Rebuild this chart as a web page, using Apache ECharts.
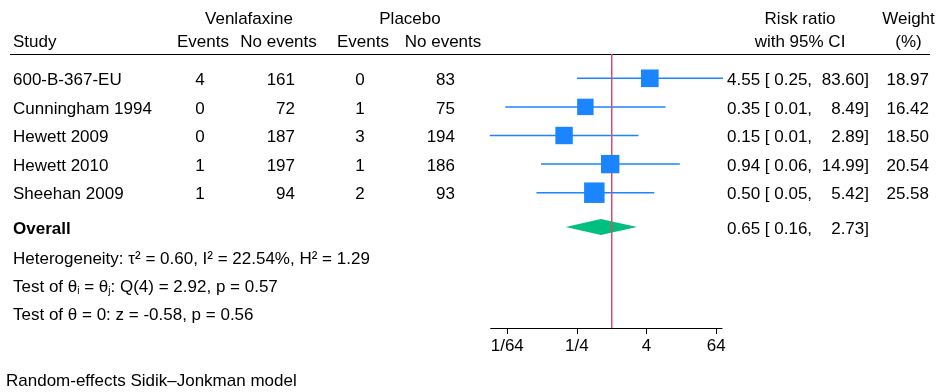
<!DOCTYPE html>
<html><head><meta charset="utf-8">
<script src="https://cdn.jsdelivr.net/npm/echarts@6/dist/echarts.min.js"></script>
<style>html,body{margin:0;padding:0;background:#fff}#c{width:942px;height:392px}</style>
</head><body><div id="c"></div>
<script>
// ---- data ----
const studies = ['600-B-367-EU', 'Cunningham 1994', 'Hewett 2009', 'Hewett 2010', 'Sheehan 2009'];
const venlaEvents = [4, 0, 0, 1, 1];
const venlaNoEvents = [161, 72, 187, 197, 94];
const placeboEvents = [0, 1, 3, 1, 2];
const placeboNoEvents = [83, 75, 194, 186, 93];
const riskRatio = [4.55, 0.35, 0.15, 0.94, 0.50];
const ciLow = [0.25, 0.0145, 0.0078, 0.06, 0.05];
const ciHigh = [83.60, 8.49, 2.89, 14.99, 5.42];
const weights = [18.97, 16.42, 18.50, 20.54, 25.58];
const overallRR = [0.65];
const overallLow = [0.16];
const overallHigh = [2.73];
const nullValue = [1];
const tickValues = [1/64, 1/4, 4, 64];
const tickLabels = ['1/64', '1/4', '4', '64'];
const hetText = 'Heterogeneity: \u03c4\u00b2 = 0.60, I\u00b2 = 22.54%, H\u00b2 = 1.29';
const testHomText = ['Test of \u03b8', 'i', ' = \u03b8', 'j', ': Q(4) = 2.92, p = 0.57'];
const testZeroText = 'Test of \u03b8 = 0: z = -0.58, p = 0.56';
const footText = 'Random-effects Sidik\u2013Jonkman model';

// ---- layout ----
const FONT = 'Liberation Sans, Arial, Helvetica, sans-serif';
const FS = 17;
const TOP = 54, AXISY = 328;
const rowY = i => 78.3 + i * 28.6;
const overallY = 227;
const textDy = 2;
const lg = v => Math.log2(v);
const BLUE = '#1a85ff', GREEN = '#00bf7f', RED = '#d24f70';

const chart = echarts.init(document.getElementById('c'), null, {renderer: 'canvas'});

const txt = (x, y, s, align, extra) => ({
  type: 'text', silent: true,
  style: Object.assign({x: x, y: y, text: s, align: align || 'left', verticalAlign: 'middle',
    font: FS + 'px ' + FONT, fill: '#000'}, extra || {})
});

const graphics = [];
// headers
graphics.push(txt(249, 19, 'Venlafaxine', 'center'));
graphics.push(txt(410, 19, 'Placebo', 'center'));
graphics.push(txt(13, 42, 'Study'));
graphics.push(txt(203, 42, 'Events', 'center'));
graphics.push(txt(278.5, 42, 'No events', 'center'));
graphics.push(txt(363, 42, 'Events', 'center'));
graphics.push(txt(443, 42, 'No events', 'center'));
graphics.push(txt(800, 19, 'Risk ratio', 'center'));
graphics.push(txt(800, 42, 'with 95% CI', 'center'));
graphics.push(txt(908.5, 19, 'Weight', 'center'));
graphics.push(txt(908.5, 42, '(%)', 'center'));
graphics.push({type: 'line', silent: true, shape: {x1: 10, y1: 54.5, x2: 930, y2: 54.5},
  style: {stroke: '#000', lineWidth: 1}});

studies.forEach((s, i) => {
  const y = rowY(i) + textDy;
  graphics.push(txt(13, y, s));
  graphics.push(txt(200, y, String(venlaEvents[i]), 'center'));
  graphics.push(txt(295, y, String(venlaNoEvents[i]), 'right'));
  graphics.push(txt(360, y, String(placeboEvents[i]), 'center'));
  graphics.push(txt(455, y, String(placeboNoEvents[i]), 'right'));
  graphics.push(txt(727, y, riskRatio[i].toFixed(2) + ' [ ' + ciLow[i].toFixed(2) + ','));
  graphics.push(txt(869, y, ciHigh[i].toFixed(2) + ']', 'right'));
  graphics.push(txt(929, y, weights[i].toFixed(2), 'right'));
});
graphics.push(txt(13, overallY + textDy, 'Overall', 'left', {font: 'bold ' + FS + 'px ' + FONT}));
graphics.push(txt(727, overallY + textDy, overallRR[0].toFixed(2) + ' [ ' + overallLow[0].toFixed(2) + ','));
graphics.push(txt(869, overallY + textDy, overallHigh[0].toFixed(2) + ']', 'right'));
graphics.push(txt(13, 259, hetText));
graphics.push({
  type: 'text', silent: true,
  style: {x: 13, y: 287, verticalAlign: 'middle', align: 'left',
    text: '{a|' + testHomText[0] + '}{s|' + testHomText[1] + '}{a|' + testHomText[2] + '}{s|' + testHomText[3] + '}{a|' + testHomText[4] + '}',
    rich: {
      a: {fontSize: FS, fontFamily: FONT, fill: '#000', lineHeight: 19},
      s: {fontSize: 10, fontFamily: FONT, fill: '#000', lineHeight: 10, padding: [9, 0, 0, 0]}
    }}
});
graphics.push(txt(13, 315, testZeroText));
graphics.push(txt(6, 381, footText));

const option = {
  animation: false,
  backgroundColor: '#fff',
  grid: {left: 490.7, right: 942 - 722, top: TOP, bottom: 392 - AXISY, containLabel: false},
  xAxis: {
    type: 'value', min: -6.95, max: 6.33,
    axisLine: {show: true, lineStyle: {color: '#000', width: 1}},
    axisTick: {show: true, length: 6, lineStyle: {color: '#000', width: 1}, customValues: tickValues.map(lg)},
    axisLabel: {show: true, margin: 10, fontSize: FS, fontFamily: FONT, color: '#000',
      customValues: tickValues.map(lg),
      formatter: v => { const k = tickValues.findIndex(t => Math.abs(lg(t) - v) < 1e-6); return k >= 0 ? tickLabels[k] : ''; }},
    splitLine: {show: false}
  },
  yAxis: {type: 'value', min: TOP, max: AXISY, inverse: true, show: false, splitLine: {show: false}},
  graphic: graphics,
  series: [
    {
      type: 'custom', z: 1, silent: true,
      data: studies.map((s, i) => [lg(ciLow[i]), lg(ciHigh[i]), rowY(i)]),
      renderItem: (params, api) => {
        const a = api.coord([api.value(0), api.value(2)]);
        const b = api.coord([api.value(1), api.value(2)]);
        return {type: 'line', shape: {x1: a[0], y1: a[1], x2: b[0], y2: b[1]},
          style: {stroke: BLUE, lineWidth: 1.5}};
      }
    },
    {
      type: 'custom', z: 2, silent: true,
      data: overallRR.map((v, i) => [lg(overallLow[i]), lg(v), lg(overallHigh[i]), overallY]),
      renderItem: (params, api) => {
        const y = api.value(3);
        const l = api.coord([api.value(0), y]);
        const c = api.coord([api.value(1), y]);
        const r = api.coord([api.value(2), y]);
        const h = 8;
        return {type: 'polygon', shape: {points: [[l[0], c[1]], [c[0], c[1] - h], [r[0], c[1]], [c[0], c[1] + h]]},
          style: {fill: GREEN}};
      }
    },
    {
      type: 'custom', z: 3, silent: true,
      data: nullValue.map(v => [lg(v)]),
      renderItem: (params, api) => {
        const a = api.coord([api.value(0), TOP]);
        const b = api.coord([api.value(0), AXISY]);
        return {type: 'line', shape: {x1: a[0], y1: a[1], x2: b[0], y2: b[1]},
          style: {stroke: RED, lineWidth: 1.5}};
      }
    },
    {
      type: 'scatter', z: 4, silent: true,
      symbol: 'rect',
      symbolSize: v => 4.05 * Math.sqrt(v[2]),
      itemStyle: {color: BLUE, opacity: 1},
      data: studies.map((s, i) => [lg(riskRatio[i]), rowY(i), weights[i]])
    }
  ]
};
chart.setOption(option);
</script>
</body></html>
